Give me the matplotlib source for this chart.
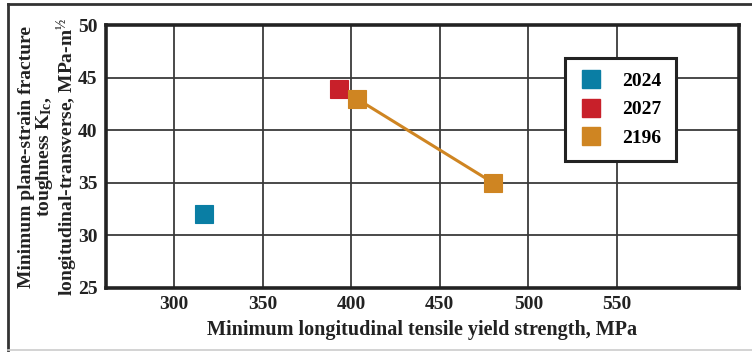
import matplotlib
matplotlib.use("Agg")
import matplotlib.pyplot as plt
from matplotlib.lines import Line2D

alloys = ["2024", "2027", "2196"]
colors = ["#0a7ea4", "#c8202a", "#cf8522"]
yield_strength = {"2024": [317], "2027": [393], "2196": [403, 480]}
toughness = {"2024": [32.0], "2027": [43.9], "2196": [43.0, 35.0]}
x_ticks = [300, 350, 400, 450, 500, 550]
y_ticks = [25, 30, 35, 40, 45, 50]

plt.rcParams['font.family'] = ['Liberation Serif', 'DejaVu Serif']
plt.rcParams['font.weight'] = 'bold'
plt.rcParams['mathtext.fontset'] = 'custom'
plt.rcParams['mathtext.rm'] = 'Liberation Serif:bold'
plt.rcParams['mathtext.it'] = 'Liberation Serif:bold'
plt.rcParams['mathtext.bf'] = 'Liberation Serif:bold'

W, H = 752, 352
fig = plt.figure(figsize=(W / 100, H / 100), dpi=100)
ax = fig.add_axes([106 / W, 1 - 288 / H, (739 - 106) / W, (288 - 25) / H])

ax.set_xlim(261.6, 618.8)
ax.set_ylim(25, 50)
ax.set_xticks(x_ticks)
ax.set_yticks(y_ticks)
ax.grid(True, color="#3a3a3a", linewidth=1.3, zorder=0)
ax.tick_params(axis='both', length=0, pad=6, labelsize=14, colors="#222222")
for lab in ax.get_xticklabels() + ax.get_yticklabels():
    lab.set_fontweight('bold')
for s in ax.spines.values():
    s.set_linewidth(2.6)
    s.set_color("#222222")
    s.set_zorder(5)

handles = []
for name, c in zip(alloys, colors):
    xs = yield_strength[name]
    ys = toughness[name]
    ax.plot(xs, ys, color=c, linewidth=2.2, zorder=3)
    ax.plot(xs, ys, linestyle='none', marker='s', markersize=13,
            markerfacecolor=c, markeredgecolor=c, markeredgewidth=0.8,
            zorder=4)
    handles.append(Line2D([], [], linestyle='none', marker='s', markersize=13,
                          markerfacecolor=c, markeredgecolor=c))

leg = ax.legend(handles, alloys, loc='upper left',
                bbox_to_anchor=((565 - 106) / (739 - 106), 1 - (58 - 25) / (288 - 25)),
                borderaxespad=0, frameon=True, fancybox=False,
                prop={'size': 14, 'weight': 'bold'}, handletextpad=1.0,
                labelspacing=0.55, borderpad=0.75, handlelength=1.2)
leg.get_frame().set_edgecolor("#222222")
leg.get_frame().set_linewidth(2.2)
leg.get_frame().set_alpha(1)
leg.set_zorder(6)

ax.set_xlabel("Minimum longitudinal tensile yield strength, MPa",
              fontsize=14.5, fontweight='bold', color="#222222", labelpad=5)
ax.set_ylabel("Minimum plane-strain fracture\ntoughness K$_{Ic}$,\nlongitudinal-transverse, MPa-m$^{½}$",
              fontsize=14, fontweight='bold', color="#222222",
              linespacing=0.98)
ax.yaxis.set_label_coords(-0.041, 0.5)

# outer frame lines
fig.add_artist(Line2D([8 / W, 1], [1 - 4 / H, 1 - 4 / H], transform=fig.transFigure,
                      color="#333333", linewidth=2))
fig.add_artist(Line2D([8 / W, 8 / W], [1 - 4 / H, 1 - 350 / H], transform=fig.transFigure,
                      color="#333333", linewidth=2))
fig.add_artist(Line2D([8 / W, 1], [1 - 350 / H, 1 - 350 / H], transform=fig.transFigure,
                      color="#cccccc", linewidth=1.2))

fig.savefig("out.png", dpi=100)
